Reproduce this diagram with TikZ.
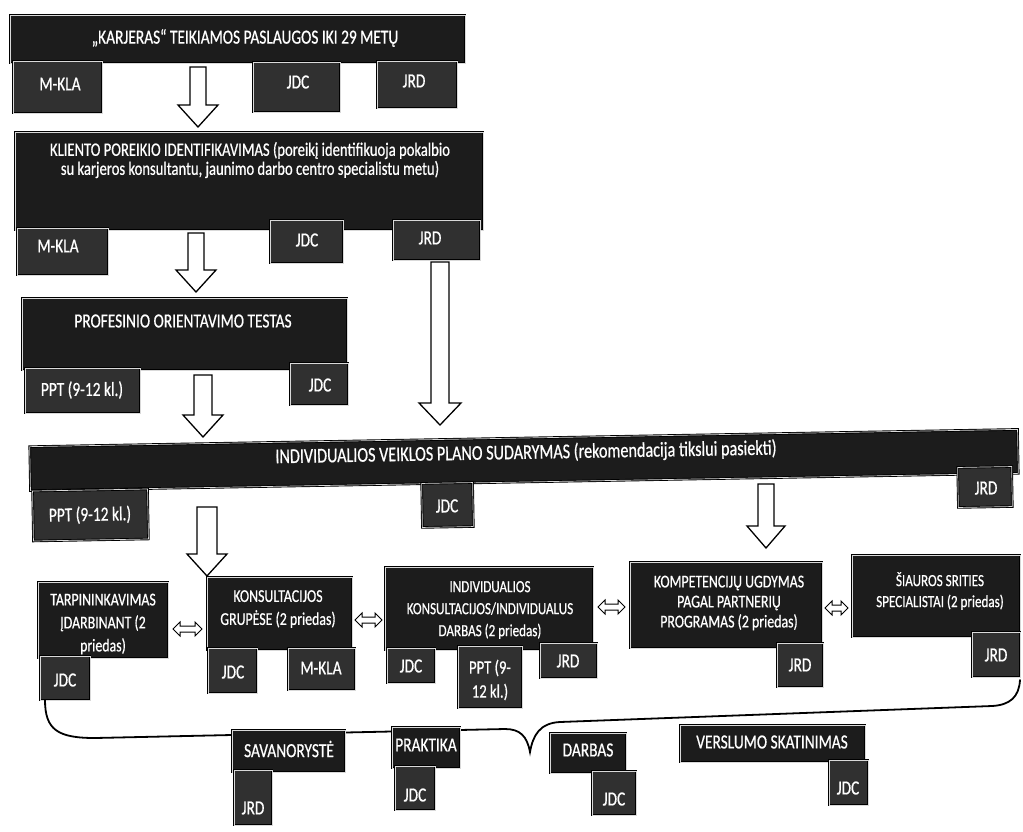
\documentclass[tikz,border=0pt]{standalone}
\usepackage{fontspec}
\newfontfamily\cf[FakeStretch=0.77,FakeBold=0.6]{Carlito}
\usetikzlibrary{fit}
\definecolor{dk}{HTML}{1C1C1C}
\definecolor{tg}{HTML}{303030}
\newcommand{\blockdown}[5]{%
  \draw[blockarrow] ({#1-#4},#2) -- ({#1+#4},#2) -- ({#1+#4},{#3-22}) -- ({#1+#5},{#3-22}) -- (#1,#3) -- ({#1-#5},{#3-22}) -- ({#1-#4},{#3-22}) -- cycle;}
\newcommand{\dblharrow}[3]{%
  \draw[blockarrow,line width=1pt] (#1,#3) -- ({#1+7},{#3-7}) -- ({#1+7},{#3-3}) -- ({#2-7},{#3-3}) -- ({#2-7},{#3-7}) -- (#2,#3) -- ({#2-7},{#3+7}) -- ({#2-7},{#3+3}) -- ({#1+7},{#3+3}) -- ({#1+7},{#3+7}) -- cycle;}
\begin{document}
\begin{tikzpicture}[x=1pt,y=-1pt,
  mb/.style={draw=black, line width=0.9pt, double=white!85!black, double distance=0.7pt, fill=dk, inner sep=0pt},
  tagbox/.style={mb, fill=tg},
  txt/.style={text=white, font=\cf\fontsize{20}{20}\selectfont, align=center, inner sep=0pt},
  txtm/.style={txt, font=\cf\fontsize{19}{19}\selectfont},
  txtb/.style={txt, font=\cf\fontsize{21}{21}\selectfont},
  txta/.style={txt, font=\cf\fontsize{18}{23}\selectfont},
  txts/.style={txt, font=\cf\fontsize{17}{21}\selectfont},
  tagt/.style={txt, font=\cf\fontsize{20}{22}\selectfont},
  blockarrow/.style={draw=black, line width=1.3pt, fill=white, line join=miter}]
\useasboundingbox[fill=white] (0,0) rectangle (1023,831);

% ---- row 1
\node[mb, fit={(10,15)(465,63)}] (b1) {};
\node[tagbox, fit={(13,61)(102,113)}] (b1m) {};
\node[tagbox, fit={(253,62)(340,112)}] (b1j) {};
\node[tagbox, fit={(377,61)(457,108)}] (b1r) {};
\node[txt] (b1t) at (245,38) {„KARJERAS“ TEIKIAMOS PASLAUGOS IKI 29 METŲ};
\node[tagt] (b1mt) at (60,84) {M-KLA};
\node[tagt] (b1jt) at (298,82) {JDC};
\node[tagt] (b1rt) at (414,81) {JRD};
\blockdown{198}{67}{127}{8}{20}

% ---- row 2
\node[mb, fit={(15,132)(483,230)}] (b2) {};
\node[tagbox, fit={(17,228)(108,275)}] (b2m) {};
\node[tagbox, fit={(270,220)(343,263)}] (b2j) {};
\node[tagbox, fit={(393,220)(480,260)}] (b2r) {};
\node[txtm] (b2t) at (250,160) {KLIENTO POREIKIO IDENTIFIKAVIMAS (poreikį identifikuoja pokalbio\\su karjeros konsultantu, jaunimo darbo centro specialistu metu)};
\node[tagt] (b2mt) at (58,246) {M-KLA};
\node[tagt] (b2jt) at (307,240) {JDC};
\node[tagt] (b2rt) at (430,238) {JRD};
\blockdown{196}{233}{292}{8}{20}
\blockdown{440}{262}{425}{9}{21}

% ---- row 3
\node[mb, fit={(22,298)(347,370)}] (b3) {};
\node[tagbox, fit={(25,368)(140,413)}] (b3p) {};
\node[tagbox, fit={(290,363)(348,405)}] (b3j) {};
\node[txt] (b3t) at (183,321) {PROFESINIO ORIENTAVIMO TESTAS};
\node[tagt] (b3pt) at (82,390) {PPT (9-12 kl.)};
\node[tagt] (b3jt) at (320,385) {JDC};
\blockdown{203}{375}{437}{9}{20}

% ---- row 4 (slightly tilted, as in the scan)
\node[mb, minimum width=988pt, minimum height=44pt, rotate=1] (b4) at (524,460) {};
\node[tagbox, minimum width=115pt, minimum height=50pt, rotate=1] (b4p) at (90.5,515) {};
\node[tagbox, minimum width=51pt, minimum height=44pt, rotate=1] (b4j) at (447.5,505) {};
\node[tagbox, minimum width=54pt, minimum height=40pt, rotate=1] (b4r) at (985,487) {};
\node[txtb, rotate=1] (b4t) at (526,453) {INDIVIDUALIOS VEIKLOS PLANO SUDARYMAS (rekomendacija tikslui pasiekti)};
\node[tagt, rotate=1] (b4pt) at (90,515) {PPT (9-12 kl.)};
\node[tagt, rotate=1] (b4jt) at (447,506) {JDC};
\node[tagt, rotate=1] (b4rt) at (986,488) {JRD};
\blockdown{207}{507}{576}{10}{20}
\blockdown{766}{484}{548}{8}{19}

% ---- row 5
\node[mb, fit={(38,582)(168,658)}] (ba) {};
\node[tagbox, fit={(40,656)(90,700)}] (baj) {};
\node[txta] (bat) at (103,624) {TARPININKAVIMAS\\ĮDARBINANT (2\\priedas)};
\node[tagt] (bajt) at (65,680) {JDC};

\node[mb, fit={(207,577)(352,650)}] (bb) {};
\node[tagbox, fit={(208,648)(257,693)}] (bbj) {};
\node[tagbox, fit={(288,648)(355,690)}] (bbm) {};
\node[txta] (bbt) at (278,609) {KONSULTACIJOS\\GRUPĖSE (2 priedas)};
\node[tagt] (bbjt) at (233,672) {JDC};
\node[tagt] (bbmt) at (321,668) {M-KLA};

\node[mb, fit={(385,567)(593,650)}] (bc) {};
\node[tagbox, fit={(387,648)(435,683)}] (bcj) {};
\node[tagbox, fit={(458,646)(522,708)}] (bcp) {};
\node[tagbox, fit={(540,643)(597,678)}] (bcr) {};
\node[txts, font=\cf\fontsize{17}{22}\selectfont] (bct) at (490,610) {INDIVIDUALIOS\\KONSULTACIJOS/INDIVIDUALUS\\DARBAS (2 priedas)};
\node[tagt] (bcjt) at (411,666) {JDC};
\node[tagt, font=\cf\fontsize{19}{24}\selectfont] (bcpt) at (490,680) {PPT (9-\\12 kl.)};
\node[tagt] (bcrt) at (568,661) {JRD};

\node[mb, fit={(630,562)(822,648)}] (bd) {};
\node[tagbox, fit={(777,643)(823,687)}] (bdr) {};
\node[txts, font=\cf\fontsize{18}{20}\selectfont] (bdt) at (729,603) {KOMPETENCIJŲ UGDYMAS\\PAGAL PARTNERIŲ\\PROGRAMAS (2 priedas)};
\node[tagt] (bdrt) at (800,665) {JRD};

\node[mb, fit={(852,555)(1020,637)}] (be) {};
\node[tagbox, fit={(972,632)(1020,677)}] (ber) {};
\node[txts] (bet) at (940,591) {ŠIAUROS SRITIES\\SPECIALISTAI (2 priedas)};
\node[tagt] (bert) at (996,655) {JRD};

\dblharrow{173}{202}{629}
\dblharrow{355}{382}{620}
\dblharrow{598}{625}{607}
\dblharrow{825}{848}{608}

% ---- brace
\draw[line width=1.8pt, line cap=round] (45,700) .. controls (45,730) and (58,738) .. (95,738)
  -- (505,729) .. controls (520,729) and (527,736) .. (530,752)
  .. controls (533,735) and (540,723) .. (560,722)
  -- (992,706) .. controls (1010,705) and (1019,697) .. (1020,680);

% ---- bottom outcomes
\node[mb, fit={(232,730)(345,772)}] (sv) {};
\node[tagbox, fit={(234,770)(272,825)}] (svr) {};
\node[txt] (svt) at (289,749) {SAVANORYSTĖ};
\node[tagt] (svrt) at (253,808) {JRD};

\node[mb, fit={(392,727)(460,768)}] (pr) {};
\node[tagbox, fit={(395,766)(435,810)}] (prj) {};
\node[txt] (prt) at (426,745) {PRAKTIKA};
\node[tagt] (prjt) at (415,795) {JDC};

\node[mb, fit={(550,733)(626,773)}] (da) {};
\node[tagbox, fit={(592,771)(636,815)}] (daj) {};
\node[txt] (dat) at (588,750) {DARBAS};
\node[tagt] (dajt) at (614,799) {JDC};

\node[mb, fit={(680,725)(865,762)}] (ve) {};
\node[tagbox, fit={(829,760)(868,805)}] (vej) {};
\node[txt] (vet) at (772,742) {VERSLUMO SKATINIMAS};
\node[tagt] (vejt) at (848,788) {JDC};
\end{tikzpicture}
\end{document}
